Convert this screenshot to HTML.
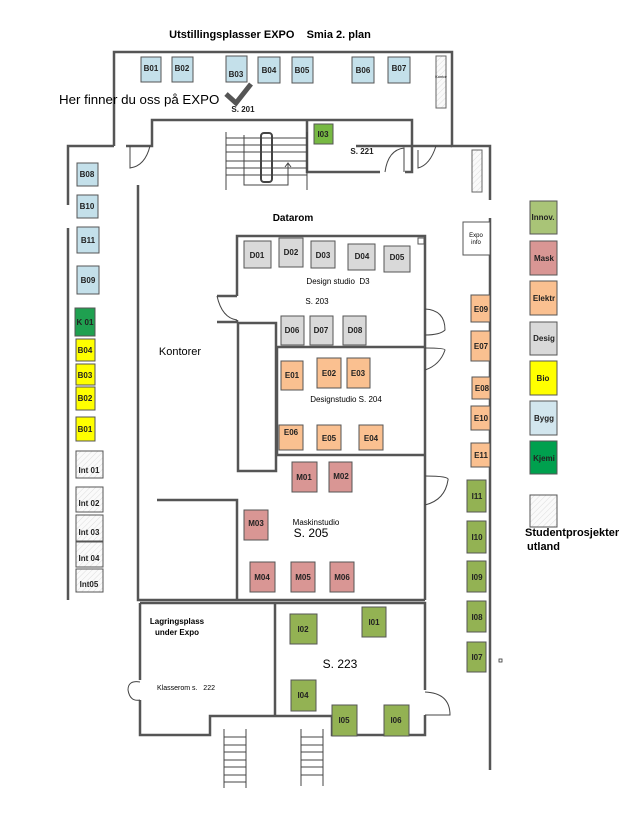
<!DOCTYPE html>
<html><head><meta charset="utf-8"><style>
html,body{margin:0;padding:0;background:#fff;}
svg{display:block;font-family:"Liberation Sans",sans-serif;}
.w{fill:none;stroke:#555;stroke-width:2.5;}
.t{stroke:#444;stroke-width:1;fill:none;}
.l{font-size:8px;font-weight:bold;text-anchor:middle;fill:#222;}
.b rect{stroke:#555;stroke-width:1;}
</style></head><body>
<svg width="628" height="814" viewBox="0 0 628 814" xmlns="http://www.w3.org/2000/svg">
<defs><pattern id="h" width="4" height="4" patternUnits="userSpaceOnUse" patternTransform="rotate(45)"><rect width="4" height="4" fill="#fafafa"/><line x1="0" y1="0" x2="0" y2="4" stroke="#ddd" stroke-width="1"/></pattern></defs>
<text x="270" y="38" font-size="11" font-weight="bold" text-anchor="middle">Utstillingsplasser EXPO &#160;&#160;&#160;Smia 2. plan</text>
<!-- top walls -->
<path class="w" d="M114,146 V52 H452 V146 H490 V200"/>
<path class="w" d="M490,218 V770"/>
<path class="w" d="M114,146 H68 V205 M68,228 V600"/>
<path class="w" d="M126,146 H152 V120 H412 V172 H405 M307,120 V172 H380"/>
<path class="w" d="M138,185 V600 H425"/>
<path class="w" d="M356,146 H452"/>
<!-- doors -->
<path class="t" d="M130,146 V168 Q145,166 150,146"/>
<path class="t" d="M385,172 Q388,150 404,148 V172"/>
<path class="t" d="M418,150 V168 Q430,165 436,146"/>
<!-- kontor hatch -->
<rect x="436" y="56" width="10" height="52" fill="url(#h)" stroke="#666"/>
<text x="441" y="78" font-size="4" text-anchor="middle">Kontor</text>
<rect x="472" y="150" width="10" height="42" fill="url(#h)" stroke="#666"/>
<!-- stairs top -->
<g class="t"><line x1="226" y1="132" x2="226" y2="190"/><line x1="307" y1="132" x2="307" y2="190"/>
<line x1="226" y1="138" x2="307" y2="138"/><line x1="226" y1="145" x2="307" y2="145"/><line x1="226" y1="152" x2="307" y2="152"/><line x1="226" y1="161" x2="307" y2="161"/><line x1="226" y1="168" x2="307" y2="168"/><line x1="226" y1="175" x2="307" y2="175"/>
<rect x="261" y="133" width="11" height="49" rx="3" stroke-width="2"/>
<path d="M244,135 V185 H288 V164 M285,167 L288,163 L291,167"/></g>
<!-- top boxes -->
<g class="b" fill="#c4e0ea">
<rect x="141" y="57" width="20" height="25"/><rect x="172" y="57" width="21" height="25"/><rect x="226" y="56" width="21" height="26"/><rect x="258" y="57" width="22" height="26"/><rect x="292" y="57" width="21" height="26"/><rect x="352" y="57" width="22" height="26"/><rect x="388" y="57" width="22" height="26"/></g>
<g class="l"><text x="151" y="71">B01</text><text x="182" y="71">B02</text><text x="236" y="77">B03</text><text x="269" y="73">B04</text><text x="302" y="73">B05</text><text x="363" y="73">B06</text><text x="399" y="71">B07</text></g>
<text x="59" y="104" font-size="13.3">Her finner du oss på EXPO</text>
<path d="M226,94 L236,103 L251,84" fill="none" stroke="#555" stroke-width="5"/>
<text x="243" y="112" class="l" font-size="7">S. 201</text>
<rect x="314" y="124" width="19" height="20" fill="#77b943" stroke="#555"/><text x="323" y="137" class="l">I03</text>
<text x="362" y="154" class="l">S. 221</text>
<!-- central -->
<text x="293" y="221" font-size="10" font-weight="bold" text-anchor="middle">Datarom</text>
<path class="w" d="M237,296 V236 H425 V600 M237,320 V322 H217"/>
<path class="w" d="M217,296 H237"/>
<path class="t" d="M217,296 Q222,318 237,320"/>
<rect class="w" x="238" y="323" width="38" height="148"/>
<path class="w" d="M277,347 H425 M277,455 H425 M277,347 V455 M157,500 H237 V600"/>
<rect x="418" y="238" width="6" height="6" fill="#fff" stroke="#555"/>
<path class="t" d="M425,309 Q445,310 445,330 Q440,335 425,335"/>
<path class="t" d="M425,348 Q445,348 445,350 Q440,365 425,370"/>
<path class="t" d="M425,476 Q450,476 448,480 Q445,500 425,505"/>
<g class="b" fill="#d9d9d9">
<rect x="244" y="241" width="27" height="27"/><rect x="279" y="238" width="24" height="29"/><rect x="311" y="241" width="24" height="27"/><rect x="348" y="244" width="27" height="26"/><rect x="384" y="246" width="26" height="26"/>
<rect x="281" y="316" width="23" height="29"/><rect x="310" y="316" width="23" height="29"/><rect x="343" y="316" width="23" height="29"/></g>
<g class="l"><text x="257" y="258">D01</text><text x="291" y="255">D02</text><text x="323" y="258">D03</text><text x="362" y="259">D04</text><text x="397" y="260">D05</text><text x="292" y="333">D06</text><text x="321" y="333">D07</text><text x="355" y="333">D08</text></g>
<text x="338" y="284" font-size="8" text-anchor="middle">Design studio &#160;D3</text>
<text x="317" y="304" font-size="8" text-anchor="middle">S. 203</text>
<text x="180" y="355" font-size="11" text-anchor="middle">Kontorer</text>
<g class="b" fill="#fac090">
<rect x="281" y="361" width="22" height="29"/><rect x="317" y="358" width="24" height="30"/><rect x="347" y="358" width="23" height="30"/>
<rect x="279" y="425" width="24" height="25"/><rect x="317" y="425" width="24" height="25"/><rect x="359" y="425" width="24" height="25"/></g>
<g class="l"><text x="292" y="378">E01</text><text x="329" y="376">E02</text><text x="358" y="376">E03</text><text x="291" y="435">E06</text><text x="329" y="441">E05</text><text x="371" y="441">E04</text></g>
<text x="346" y="402" font-size="8" text-anchor="middle">Designstudio S. 204</text>
<g class="b" fill="#d99694">
<rect x="292" y="462" width="25" height="30"/><rect x="329" y="462" width="23" height="30"/><rect x="244" y="510" width="24" height="30"/>
<rect x="250" y="562" width="25" height="30"/><rect x="291" y="562" width="24" height="30"/><rect x="330" y="562" width="24" height="30"/></g>
<g class="l"><text x="304" y="480">M01</text><text x="341" y="479">M02</text><text x="256" y="526">M03</text><text x="262" y="580">M04</text><text x="303" y="580">M05</text><text x="342" y="580">M06</text></g>
<text x="316" y="525" font-size="8" text-anchor="middle">Maskinstudio</text>
<text x="311" y="537" font-size="12" text-anchor="middle">S. 205</text>
<!-- bottom -->
<path class="w" d="M140,603 H425 V690 M425,715 V735 H332 V716 H210 V735 H140 V700 M140,680 V603 M275,603 V716"/>
<path class="t" d="M425,692 Q450,693 450,715 H425"/>
<path class="t" d="M140,682 Q128,680 128,690 M140,700 Q130,702 128,690"/>
<text x="177" y="624" font-size="8" font-weight="bold" text-anchor="middle">Lagringsplass</text>
<text x="177" y="635" font-size="8" font-weight="bold" text-anchor="middle">under Expo</text>
<text x="186" y="690" font-size="7" text-anchor="middle">Klasserom s. &#160;&#160;222</text>
<text x="340" y="668" font-size="12" text-anchor="middle">S. 223</text>
<g class="b" fill="#93b253">
<rect x="290" y="614" width="27" height="30"/><rect x="362" y="607" width="24" height="30"/><rect x="291" y="680" width="25" height="31"/><rect x="332" y="705" width="25" height="31"/><rect x="384" y="705" width="25" height="31"/></g>
<g class="l"><text x="303" y="632">I02</text><text x="374" y="625">I01</text><text x="303" y="698">I04</text><text x="344" y="723">I05</text><text x="396" y="723">I06</text></g>
<g class="t">
<line x1="224" y1="729" x2="224" y2="788"/><line x1="246" y1="729" x2="246" y2="788"/>
<line x1="224" y1="737" x2="246" y2="737"/><line x1="224" y1="745" x2="246" y2="745"/><line x1="224" y1="752" x2="246" y2="752"/><line x1="224" y1="760" x2="246" y2="760"/><line x1="224" y1="767" x2="246" y2="767"/><line x1="224" y1="775" x2="246" y2="775"/><line x1="224" y1="782" x2="246" y2="782"/>
<line x1="301" y1="729" x2="301" y2="786"/><line x1="323" y1="729" x2="323" y2="786"/>
<line x1="301" y1="737" x2="323" y2="737"/><line x1="301" y1="745" x2="323" y2="745"/><line x1="301" y1="752" x2="323" y2="752"/><line x1="301" y1="760" x2="323" y2="760"/><line x1="301" y1="767" x2="323" y2="767"/><line x1="301" y1="775" x2="323" y2="775"/>
</g>
<!-- left column -->
<g class="b" fill="#c4e0ea"><rect x="77" y="163" width="21" height="23"/><rect x="77" y="195" width="21" height="23"/><rect x="77" y="227" width="22" height="26"/><rect x="77" y="266" width="22" height="28"/></g>
<rect x="75" y="308" width="20" height="28" fill="#1fa050" stroke="#555"/>
<g class="b" fill="#ffff00"><rect x="76" y="339" width="19" height="22"/><rect x="76" y="364" width="19" height="21"/><rect x="76" y="387" width="19" height="23"/><rect x="76" y="417" width="19" height="24"/></g>
<g class="b" fill="url(#h)"><rect x="76" y="451" width="27" height="27"/><rect x="76" y="487" width="27" height="25"/><rect x="76" y="515" width="27" height="26"/><rect x="76" y="542" width="27" height="25"/><rect x="76" y="569" width="27" height="23"/></g>
<g class="l"><text x="87" y="177">B08</text><text x="87" y="209">B10</text><text x="88" y="243">B11</text><text x="88" y="283">B09</text><text x="85" y="325">K 01</text><text x="85" y="353">B04</text><text x="85" y="378">B03</text><text x="85" y="401">B02</text><text x="85" y="432">B01</text>
<text x="89" y="473">Int 01</text><text x="89" y="506">Int 02</text><text x="89" y="535">Int 03</text><text x="89" y="561">Int 04</text><text x="89" y="587">Int05</text></g>
<!-- right column -->
<rect x="463" y="222" width="27" height="33" fill="#fff" stroke="#555"/>
<text x="476" y="237" font-size="6" text-anchor="middle">Expo</text><text x="476" y="244" font-size="6" text-anchor="middle">info</text>
<g class="b" fill="#fac090"><rect x="471" y="295" width="19" height="27"/><rect x="471" y="331" width="19" height="30"/><rect x="472" y="377" width="18" height="22"/><rect x="471" y="406" width="19" height="24"/><rect x="471" y="443" width="19" height="24"/></g>
<g class="b" fill="#93b253"><rect x="467" y="480" width="19" height="32"/><rect x="467" y="521" width="19" height="32"/><rect x="467" y="561" width="19" height="31"/><rect x="467" y="601" width="19" height="31"/><rect x="467" y="642" width="19" height="30"/></g>
<g class="l"><text x="481" y="312">E09</text><text x="481" y="349">E07</text><text x="482" y="391">E08</text><text x="481" y="421">E10</text><text x="481" y="458">E11</text>
<text x="477" y="499">I11</text><text x="477" y="540">I10</text><text x="477" y="580">I09</text><text x="477" y="620">I08</text><text x="477" y="660">I07</text></g>
<rect x="499" y="659" width="3" height="3" fill="none" stroke="#333" stroke-width="0.8"/>
<!-- legend -->
<g class="b">
<rect x="530" y="201" width="27" height="33" fill="#a9c477"/><rect x="530" y="241" width="27" height="34" fill="#d99694"/><rect x="530" y="281" width="27" height="34" fill="#fac090"/><rect x="530" y="322" width="27" height="33" fill="#d9d9d9"/><rect x="530" y="361" width="27" height="34" fill="#ffff00"/><rect x="530" y="401" width="27" height="34" fill="#d2e6ee"/><rect x="530" y="441" width="27" height="33" fill="#00a04e"/><rect x="530" y="495" width="27" height="32" fill="url(#h)"/></g>
<g class="l"><text x="543" y="220">Innov.</text><text x="544" y="261">Mask</text><text x="544" y="301">Elektr</text><text x="544" y="341">Desig</text><text x="543" y="381">Bio</text><text x="544" y="421">Bygg</text><text x="544" y="461">Kjemi</text></g>
<text x="525" y="536" font-size="11" font-weight="bold">Studentprosjekter</text>
<text x="527" y="550" font-size="11" font-weight="bold">utland</text>
</svg>
</body></html>
